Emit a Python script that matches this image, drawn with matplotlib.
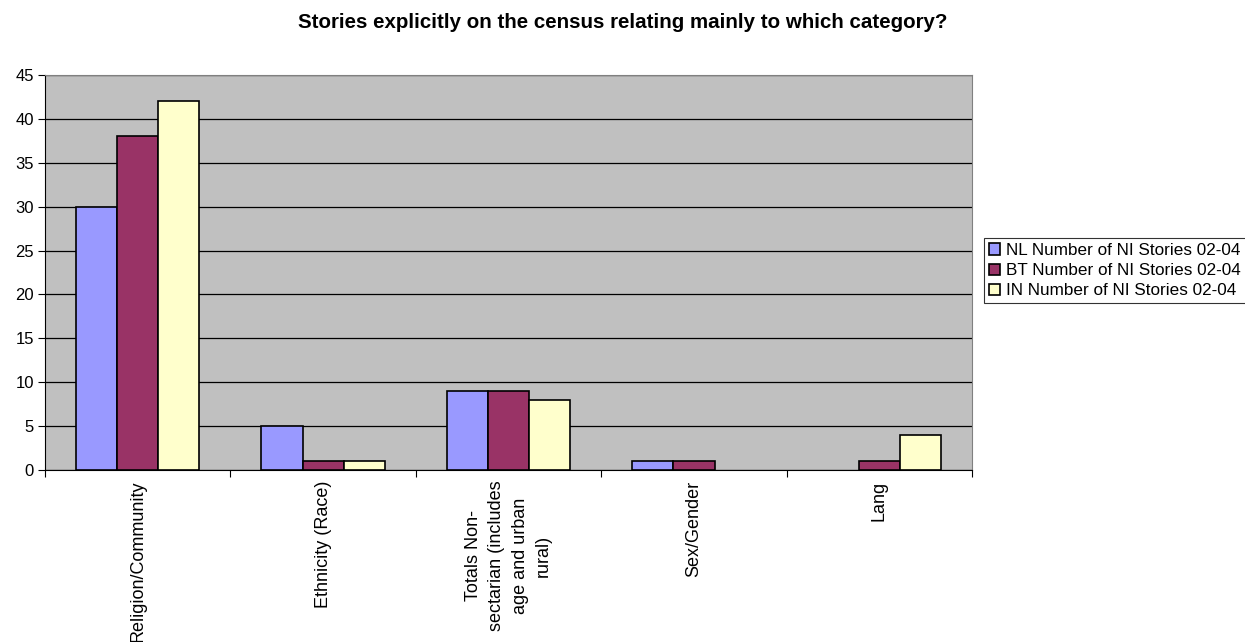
import numpy as np
import matplotlib.pyplot as plt

plt.rcParams['font.family'] = ['Liberation Sans', 'DejaVu Sans']

# data
categories = ['Religion/Community', 'Ethnicity (Race)',
              'Totals Non-\nsectarian (includes\nage and urban\nrural)',
              'Sex/Gender', 'Lang']
series_names = ['NL Number of NI Stories 02-04',
                'BT Number of NI Stories 02-04',
                'IN Number of NI Stories 02-04']
nl_values = [30, 5, 9, 1, 0]
bt_values = [38, 1, 9, 1, 1]
in_values = [42, 1, 8, 0, 4]
colors = ['#9999FF', '#993366', '#FFFFCC']

fig = plt.figure(figsize=(12.45, 6.42), dpi=100)
ax = fig.add_axes([45 / 1245, 1 - 470 / 642, 927 / 1245, 395 / 642])
ax.set_facecolor('#C0C0C0')

x = np.arange(len(categories))
w = 1 / 4.5
for i, (vals, name) in enumerate(zip([nl_values, bt_values, in_values], series_names)):
    bars = ax.bar(x + (i - 1) * w, vals, width=w, color=colors[i], edgecolor='black',
                  linewidth=1.2, label=name, zorder=3)
    # excel draws nothing for empty values
    for b, v in zip(bars, vals):
        if v == 0:
            b.set_visible(False)

ax.set_xlim(-0.5, len(categories) - 0.5)
ax.set_ylim(0, 45)
ax.set_yticks(range(0, 46, 5))
ax.yaxis.grid(True, color='black', linewidth=0.9, zorder=1)
ax.tick_params(axis='y', direction='out', length=5, labelsize=12, pad=3)

# category boundary ticks + rotated labels
ax.set_xticks(np.arange(len(categories) + 1) - 0.5)
ax.set_xticklabels([])
ax.tick_params(axis='x', direction='out', length=5)
for xi, lab in zip(x, categories):
    ax.text(xi, -1.2, lab, rotation=90, ha='center', va='top',
            multialignment='center', fontsize=13, linespacing=1.48)

for s in ['top', 'right']:
    ax.spines[s].set_color('#808080')
for s in ['left', 'bottom']:
    ax.spines[s].set_color('black')

fig.suptitle('Stories explicitly on the census relating mainly to which category?',
             x=0.5, y=0.979, fontsize=14.8, fontweight='bold')

leg = fig.legend(loc='upper left', bbox_to_anchor=(984 / 1245, 1 - 238 / 642),
                 frameon=True, fancybox=False, edgecolor='black', fontsize=12.3,
                 handlelength=0.65, handleheight=0.65, handletextpad=0.35,
                 labelspacing=0.3, borderpad=0.3, borderaxespad=0)
leg.get_frame().set_linewidth(0.8)

fig.savefig('out.png', dpi=100)
